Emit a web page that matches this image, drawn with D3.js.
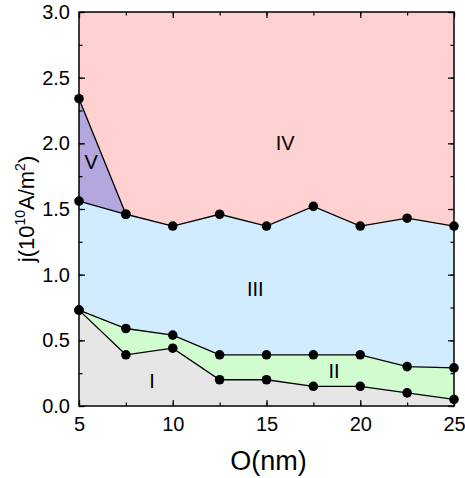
<!DOCTYPE html>
<html>
<head>
<meta charset="utf-8">
<script src="https://cdn.jsdelivr.net/npm/d3@7"></script>
<style>
  body { margin: 0; background: #fff; }
  svg text { font-family: "Liberation Sans", Arial, sans-serif; fill: #000; }
</style>
</head>
<body>
<div id="viz"></div>
<script>
// thickness O (nm) at each sampled point
const thickness = [5, 7.5, 10, 12.5, 15, 17.5, 20, 22.5, 25];
// phase boundaries j (10^10 A/m^2)
const boundaryI_II = [0.73, 0.39, 0.44, 0.20, 0.20, 0.15, 0.15, 0.10, 0.05];
const boundaryII_III = [0.73, 0.59, 0.54, 0.39, 0.39, 0.39, 0.39, 0.30, 0.29];
const boundaryIII_IV = [1.56, 1.46, 1.37, 1.46, 1.37, 1.52, 1.37, 1.43, 1.37];
// boundary V/IV runs from the left axis down to the III/IV line
const boundaryV_x = [5, 7.5];
const boundaryV_y = [2.34, 1.46];

const xTicks = [5, 10, 15, 20, 25];
const yTicks = [0, 0.5, 1.0, 1.5, 2.0, 2.5, 3.0];

const regionLabels = [
  { text: 'I', x: 8.9, y: 0.19 },
  { text: 'II', x: 18.6, y: 0.27 },
  { text: 'III', x: 14.4, y: 0.89 },
  { text: 'IV', x: 16.0, y: 2.0 },
  { text: 'V', x: 5.65, y: 1.86 }
];

const WIDTH = 465;
const HEIGHT = 478;
const MARGIN = { top: 12, right: 11, bottom: 72, left: 79 };
const innerW = WIDTH - MARGIN.left - MARGIN.right;
const innerH = HEIGHT - MARGIN.top - MARGIN.bottom;

const svg = d3.select('#viz').append('svg')
  .attr('width', WIDTH)
  .attr('height', HEIGHT);

const inner = svg.append('g')
  .attr('transform', `translate(${MARGIN.left}, ${MARGIN.top})`);

const x = d3.scaleLinear().domain([5, 25]).range([0, innerW]);
const y = d3.scaleLinear().domain([0, 3]).range([innerH, 0]);

const pts = arr => thickness.map((t, i) => [t, arr[i]]);

// background region IV
inner.append('rect')
  .attr('width', innerW)
  .attr('height', innerH)
  .attr('fill', '#ffd0d0');

const area = d3.area()
  .x(d => x(d[0]))
  .y0(y(0))
  .y1(d => y(d[1]));

inner.append('path').datum(pts(boundaryIII_IV)).attr('d', area).attr('fill', '#d0ecfe');
inner.append('path').datum(pts(boundaryII_III)).attr('d', area).attr('fill', '#d0fcd0');
inner.append('path').datum(pts(boundaryI_II)).attr('d', area).attr('fill', '#e6e6e6');

// region V
const vPoly = [
  [boundaryV_x[0], boundaryV_y[0]],
  [boundaryV_x[1], boundaryV_y[1]],
  [thickness[0], boundaryIII_IV[0]]
];
inner.append('path')
  .attr('d', d3.line().x(d => x(d[0])).y(d => y(d[1]))(vPoly) + 'Z')
  .attr('fill', '#b4a7de');

// boundary lines with markers
const line = d3.line().x(d => x(d[0])).y(d => y(d[1]));
const lines = [
  pts(boundaryI_II),
  pts(boundaryII_III),
  pts(boundaryIII_IV),
  boundaryV_x.map((t, i) => [t, boundaryV_y[i]])
];
lines.forEach(l => {
  inner.append('path')
    .datum(l)
    .attr('d', line)
    .attr('fill', 'none')
    .attr('stroke', '#000')
    .attr('stroke-width', 1.3);
});
lines.forEach(l => {
  inner.append('g').selectAll('circle')
    .data(l)
    .join('circle')
    .attr('cx', d => x(d[0]))
    .attr('cy', d => y(d[1]))
    .attr('r', 4.8)
    .attr('fill', '#000');
});

// region labels
inner.append('g').selectAll('text')
  .data(regionLabels)
  .join('text')
  .attr('x', d => x(d.x))
  .attr('y', d => y(d.y))
  .attr('text-anchor', 'middle')
  .attr('dominant-baseline', 'central')
  .attr('font-size', 20)
  .text(d => d.text);

// axes: ticks pointing inward on all four sides
const xMinor = d3.range(5, 25.01, 2.5);
const yMinor = d3.range(0, 3.01, 0.25);
const axes = inner.append('g');

axes.append('g')
  .attr('transform', `translate(0, ${innerH})`)
  .call(d3.axisBottom(x).tickValues(xTicks).tickSize(-6).tickPadding(11).tickFormat(d3.format('d')));
axes.append('g')
  .attr('transform', `translate(0, ${innerH})`)
  .call(d3.axisBottom(x).tickValues(xMinor).tickSize(-3.5).tickFormat(''));
axes.append('g')
  .call(d3.axisTop(x).tickValues(xTicks).tickSize(-6).tickFormat(''));
axes.append('g')
  .call(d3.axisTop(x).tickValues(xMinor).tickSize(-3.5).tickFormat(''));

axes.append('g')
  .call(d3.axisLeft(y).tickValues(yTicks).tickSize(-6).tickPadding(9).tickFormat(d3.format('.1f')));
axes.append('g')
  .call(d3.axisLeft(y).tickValues(yMinor).tickSize(-3.5).tickFormat(''));
axes.append('g')
  .attr('transform', `translate(${innerW}, 0)`)
  .call(d3.axisRight(y).tickValues(yTicks).tickSize(-6).tickFormat(''));
axes.append('g')
  .attr('transform', `translate(${innerW}, 0)`)
  .call(d3.axisRight(y).tickValues(yMinor).tickSize(-3.5).tickFormat(''));

axes.selectAll('.domain').remove();
axes.selectAll('.tick line').attr('stroke', '#000').attr('stroke-width', 1.2);
axes.selectAll('.tick text')
  .attr('font-size', 20)
  .attr('font-family', '"Liberation Sans", Arial, sans-serif')
  .attr('fill', '#000');

inner.append('rect')
  .attr('width', innerW)
  .attr('height', innerH)
  .attr('fill', 'none')
  .attr('stroke', '#000')
  .attr('stroke-width', 1.5);

// axis titles
svg.append('text')
  .attr('x', MARGIN.left + innerW / 2 + 2)
  .attr('y', 470)
  .attr('text-anchor', 'middle')
  .attr('font-size', 27)
  .text('O(nm)');

const yTitle = svg.append('text')
  .attr('transform', `translate(34, ${MARGIN.top + innerH / 2}) rotate(-90)`)
  .attr('text-anchor', 'middle')
  .attr('font-size', 22);
yTitle.append('tspan').text('j(10');
yTitle.append('tspan').attr('font-size', 14).attr('dy', -9).text('10');
yTitle.append('tspan').attr('dy', 9).text('A/m');
yTitle.append('tspan').attr('font-size', 14).attr('dy', -9).text('2');
yTitle.append('tspan').attr('dy', 9).text(')');
</script>
</body>
</html>
